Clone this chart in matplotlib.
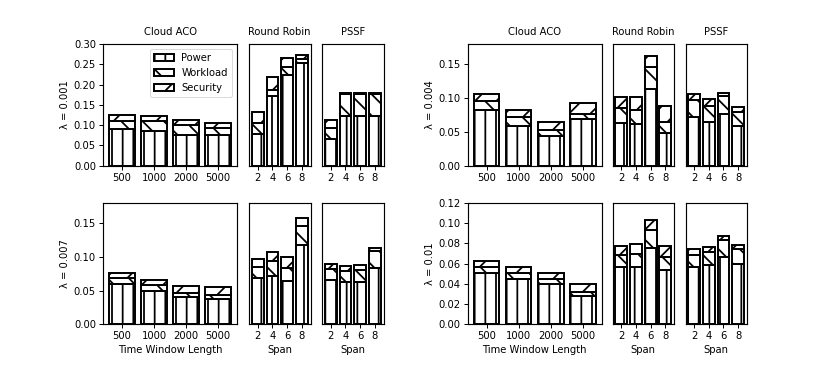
import numpy as np
import matplotlib
matplotlib.use("Agg")
import matplotlib.pyplot as plt

# ---------------- data ----------------
cloud_labels = ["500", "1000", "2000", "5000"]
span_values = [2, 4, 6, 8]
series_names = ["Power", "Workload", "Security"]
lambda_labels = ["λ = 0.001", "λ = 0.004", "λ = 0.007", "λ = 0.01"]

# λ = 0.001
aco_001_power = [0.090, 0.085, 0.076, 0.076]
aco_001_work = [0.020, 0.024, 0.024, 0.018]
aco_001_sec = [0.016, 0.014, 0.012, 0.011]
rr_001_power = [0.077, 0.172, 0.223, 0.252]
rr_001_work = [0.028, 0.014, 0.021, 0.011]
rr_001_sec = [0.027, 0.033, 0.022, 0.010]
pssf_001_power = [0.066, 0.122, 0.122, 0.122]
pssf_001_work = [0.026, 0.054, 0.054, 0.054]
pssf_001_sec = [0.021, 0.002, 0.002, 0.002]

# λ = 0.004
aco_004_power = [0.082, 0.059, 0.044, 0.069]
aco_004_work = [0.014, 0.013, 0.009, 0.008]
aco_004_sec = [0.0095, 0.011, 0.012, 0.016]
rr_004_power = [0.0635, 0.062, 0.114, 0.049]
rr_004_work = [0.0225, 0.020, 0.032, 0.016]
rr_004_sec = [0.015, 0.020, 0.016, 0.023]
pssf_004_power = [0.072, 0.065, 0.076, 0.059]
pssf_004_work = [0.025, 0.024, 0.027, 0.020]
pssf_004_sec = [0.0085, 0.009, 0.005, 0.008]

# λ = 0.007
aco_007_power = [0.060, 0.050, 0.040, 0.037]
aco_007_work = [0.008, 0.008, 0.006, 0.006]
aco_007_sec = [0.008, 0.007, 0.010, 0.012]
rr_007_power = [0.068, 0.071, 0.064, 0.117]
rr_007_work = [0.017, 0.022, 0.020, 0.028]
rr_007_sec = [0.012, 0.014, 0.016, 0.013]
pssf_007_power = [0.065, 0.062, 0.063, 0.083]
pssf_007_work = [0.017, 0.017, 0.018, 0.026]
pssf_007_sec = [0.007, 0.008, 0.007, 0.004]

# λ = 0.01
aco_01_power = [0.051, 0.045, 0.040, 0.028]
aco_01_work = [0.0055, 0.006, 0.005, 0.004]
aco_01_sec = [0.0055, 0.006, 0.006, 0.008]
rr_01_power = [0.057, 0.057, 0.075, 0.054]
rr_01_work = [0.011, 0.012, 0.018, 0.012]
rr_01_sec = [0.009, 0.010, 0.010, 0.011]
pssf_01_power = [0.057, 0.059, 0.066, 0.060]
pssf_01_work = [0.011, 0.012, 0.017, 0.014]
pssf_01_sec = [0.006, 0.005, 0.004, 0.004]

panels = [
    (lambda_labels[0], (aco_001_power, aco_001_work, aco_001_sec),
     (rr_001_power, rr_001_work, rr_001_sec),
     (pssf_001_power, pssf_001_work, pssf_001_sec)),
    (lambda_labels[1], (aco_004_power, aco_004_work, aco_004_sec),
     (rr_004_power, rr_004_work, rr_004_sec),
     (pssf_004_power, pssf_004_work, pssf_004_sec)),
    (lambda_labels[2], (aco_007_power, aco_007_work, aco_007_sec),
     (rr_007_power, rr_007_work, rr_007_sec),
     (pssf_007_power, pssf_007_work, pssf_007_sec)),
    (lambda_labels[3], (aco_01_power, aco_01_work, aco_01_sec),
     (rr_01_power, rr_01_work, rr_01_sec),
     (pssf_01_power, pssf_01_work, pssf_01_sec)),
]

# ---------------- style ----------------
DPI = 64
W, H = 830, 365
FS = 10 * 72 / DPI
plt.rcParams.update({
    "font.family": ["DejaVu Sans"],
    "font.size": FS,
    "axes.linewidth": 1.3,
    "hatch.linewidth": 2.0,
    "xtick.major.size": 4.5,
    "ytick.major.size": 4.5,
    "xtick.major.width": 1.1,
    "ytick.major.width": 1.1,
})
hatches = ["|", "\\", "/"]
EDGE_LW = 2.2

fig = plt.figure(figsize=(W / DPI, H / DPI), dpi=DPI)


def pos(x0, y0, x1, y1):
    return [x0 / W, 1 - y1 / H, (x1 - x0) / W, (y1 - y0) / H]


rows = [(44.0, 165.7), (202.7, 324.3)]
cols_left = [(103.0, 237.0), (249.0, 310.5), (322.0, 383.5)]
cols_right = [(467.7, 601.7), (612.7, 674.0), (685.7, 746.7)]
layout = [(rows[0], cols_left), (rows[0], cols_right),
          (rows[1], cols_left), (rows[1], cols_right)]
ylims = [0.30, 0.18, 0.18, 0.12]
yticks = [np.arange(0, 0.301, 0.05), np.arange(0, 0.151, 0.05),
          np.arange(0, 0.151, 0.05), np.arange(0, 0.121, 0.02)]
titles = ["Cloud ACO", "Round Robin", "PSSF"]


def stack(ax, x, series, width):
    bottom = np.zeros(len(x))
    for vals, h, name in zip(series, hatches, series_names):
        vals = np.asarray(vals)
        ax.bar(x, vals, width=width, bottom=bottom, color="white",
               edgecolor="black", linewidth=EDGE_LW, hatch=h, label=name)
        bottom = bottom + vals


for i, ((y0, y1), cols) in enumerate(layout):
    lab, aco, rr, pssf = panels[i]
    axes = []
    for j, (x0, x1) in enumerate(cols):
        ax = fig.add_axes(pos(x0, y0, x1, y1))
        axes.append(ax)
    a0, a1, a2 = axes
    stack(a0, np.arange(len(cloud_labels)), aco, 0.8)
    a0.set_xticks(np.arange(len(cloud_labels)))
    a0.set_xticklabels(cloud_labels)
    for ax, data in ((a1, rr), (a2, pssf)):
        stack(ax, np.array(span_values), data, 1.6)
        ax.set_xticks(span_values)
        ax.tick_params(axis="y", left=False, labelleft=False)
    for ax in axes:
        ax.set_ylim(0, ylims[i])
    a0.set_yticks(yticks[i])
    a0.set_ylabel(lab)
    if i < 2:
        for ax, t in zip(axes, titles):
            ax.set_title(t, fontsize=FS, pad=10)
    else:
        a0.set_xlabel("Time Window Length")
        a1.set_xlabel("Span")
        a2.set_xlabel("Span")
    if i == 0:
        a0.legend(loc="upper right", fontsize=FS)

fig.savefig("out.png", dpi=DPI)
